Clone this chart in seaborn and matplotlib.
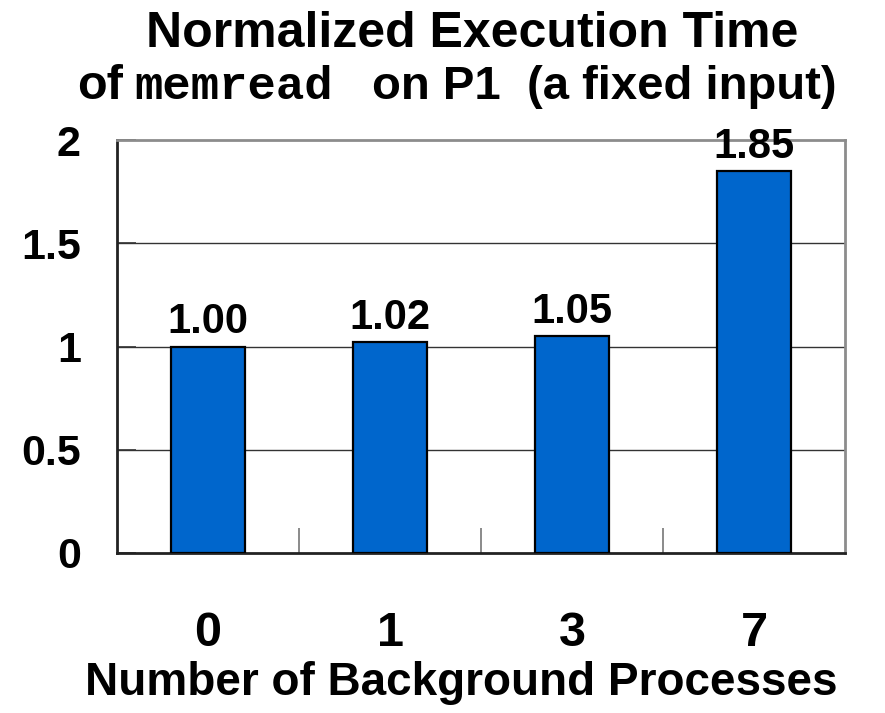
import matplotlib
matplotlib.use("Agg")
import matplotlib.pyplot as plt
import seaborn as sns
import pandas as pd

# Background process counts and normalized execution time of memread on P1
categories = ["0", "1", "3", "7"]
norm_time = [1.00, 1.02, 1.05, 1.85]
y_ticks = [0, 0.5, 1, 1.5, 2]
y_tick_labels = ["0", "0.5", "1", "1.5", "2"]

df = pd.DataFrame({"procs": categories, "time": norm_time})

sns.set_theme(style="white")
plt.rcParams["font.family"] = ["Liberation Sans", "DejaVu Sans"]
plt.rcParams["font.weight"] = "bold"
plt.rcParams["text.color"] = "black"
plt.rcParams["axes.labelcolor"] = "black"
plt.rcParams["xtick.labelcolor"] = "black"
plt.rcParams["ytick.labelcolor"] = "black"

W, H = 885, 713
fig = plt.figure(figsize=(W / 100, H / 100), dpi=100)
ax = fig.add_axes([117 / W, 1 - 553 / H, (845 - 117) / W, (553 - 140) / H])

bar_color = "#0066CC"
sns.barplot(data=df, x="procs", y="time", order=categories, color=bar_color,
            width=0.41, edgecolor="black", linewidth=1.6, saturation=1,
            ax=ax, zorder=3)

ax.set_ylim(0, 2)
ax.set_xlim(-0.5, len(categories) - 0.5)

# horizontal grid lines
ax.set_yticks(y_ticks)
ax.set_yticklabels(y_tick_labels, fontsize=31, fontweight="bold", color="black")
for v in y_ticks[1:-1]:
    ax.axhline(v, color="#333333", linewidth=1.0, zorder=1)

ax.tick_params(axis="y", direction="in", length=14, width=1.2, color="#333333",
               pad=26, left=True)

# category tick labels, minor ticks mark category boundaries
ax.set_xticks(range(len(categories)))
ax.set_xticklabels(categories, fontsize=35, fontweight="bold", color="black")
ax.tick_params(axis="x", which="major", length=0, pad=42)
ax.set_xticks([i + 0.5 for i in range(len(categories) - 1)], minor=True)
ax.tick_params(axis="x", which="minor", direction="in", length=18, width=1.2,
               color="#777777", bottom=True)

for side in ("top", "right"):
    ax.spines[side].set_color("#8c8c8c")
    ax.spines[side].set_linewidth(2.0)
for side in ("left", "bottom"):
    ax.spines[side].set_color("#222222")
    ax.spines[side].set_linewidth(2.0)
    ax.spines[side].set_visible(True)

for c in ax.containers:
    ax.bar_label(c, fmt="%.2f", padding=3, fontsize=30, fontweight="bold",
                 color="black")

ax.set_xlabel("Number of Background Processes", fontsize=33, fontweight="bold",
              color="black")
ax.set_ylabel("")
ax.xaxis.set_label_coords(0.4725, -0.262)

# two-line title, second line mixes a monospaced program name
fig.text(472 / W, 1 - 47 / H, "Normalized Execution Time", ha="center",
         va="baseline", fontsize=36, fontweight="bold", color="black")
base2 = 1 - 99 / H
fig.text(77 / W, base2, "of", ha="left", va="baseline", fontsize=35,
         fontweight="bold", color="black")
fig.text(134 / W, base2, "memread", ha="left", va="baseline", fontsize=34,
         fontweight="bold", color="black",
         family=["Liberation Mono", "DejaVu Sans Mono"])
fig.text(372 / W, base2, "on P1  (a fixed input)", ha="left", va="baseline",
         fontsize=34, fontweight="bold", color="black")

fig.savefig("out.png", dpi=100)
